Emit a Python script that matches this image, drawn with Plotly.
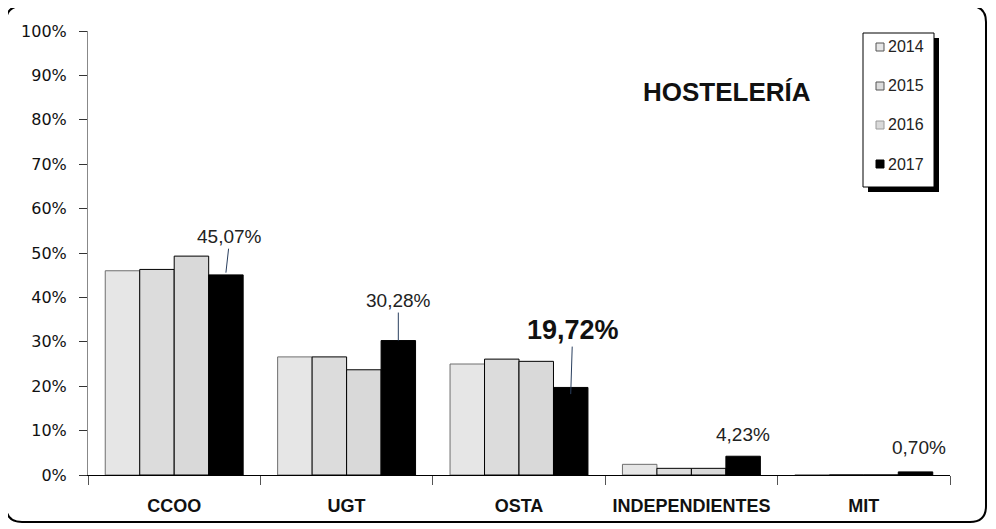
import plotly.graph_objects as go

categories = ["CCOO", "UGT", "OSTA", "INDEPENDIENTES", "MIT"]
years = ["2014", "2015", "2016", "2017"]
v2014 = [46.0, 26.6, 25.0, 2.4, 0.0]
v2015 = [46.3, 26.6, 26.1, 1.5, 0.0]
v2016 = [49.3, 23.7, 25.6, 1.5, 0.0]
v2017 = [45.07, 30.28, 19.72, 4.23, 0.70]
labels2017 = ["45,07%", "30,28%", "19,72%", "4,23%", "0,70%"]
yticks = [0, 10, 20, 30, 40, 50, 60, 70, 80, 90, 100]
yticklabels = [f"{t}%" for t in yticks]

fills = ["#e6e6e6", "#dcdcdc", "#d9d9d9", "#000000"]
edges = ["#6e6e6e", "#000000", "#000000", "#000000"]
series = [v2014, v2015, v2016, v2017]

# page is offset by the 8px body margin
OFF = 8
W, H = 996 - 2 * OFF, 529 - OFF
ml, mr, mt, mb = 80, 38, 23, 54
PL, PT = OFF + ml, OFF + mt          # plot area left/top in page px
pw, ph = W - ml - mr, H - mt - mb
PB = PT + ph

def px2paper(x, y):
    return (x - PL) / pw, (PB - y) / ph

fig = go.Figure()
for i, (yr, vals) in enumerate(zip(years, series)):
    fig.add_trace(go.Bar(
        x=categories, y=vals, name=yr, showlegend=False,
        marker=dict(color=fills[i], line=dict(color=edges[i], width=1)),
    ))

def P(x, y):
    a, b = px2paper(x, y)
    return f"{a:.5f},{b:.5f}"

# rounded outer frame
x0, y0, x1, y1, r = 6, 6, 986, 522, 16
path = (f"M {P(x0+r,y0)} L {P(x1-r,y0)} Q {P(x1,y0)} {P(x1,y0+r)} "
        f"L {P(x1,y1-r)} Q {P(x1,y1)} {P(x1-r,y1)} L {P(x0+r,y1)} "
        f"Q {P(x0,y1)} {P(x0,y1-r)} L {P(x0,y0+r)} Q {P(x0,y0)} {P(x0+r,y0)} Z")
shapes = [dict(type="path", xref="paper", yref="paper", path=path,
               line=dict(color="black", width=2), layer="below")]

def rect_px(xa, ya, xb, yb, **kw):
    a0, b0 = px2paper(xa, ya)
    a1, b1 = px2paper(xb, yb)
    d = dict(type="rect", xref="paper", yref="paper", x0=a0, x1=a1, y0=b1, y1=b0)
    d.update(kw)
    return d

# legend box with shadow
lx0, ly0, lx1, ly1 = 863, 33, 934, 187
shapes.append(rect_px(lx0 + 5, ly0 + 5, lx1 + 5, ly1 + 5, fillcolor="black",
                      line=dict(width=0), layer="above"))
shapes.append(rect_px(lx0, ly0, lx1, ly1, fillcolor="white",
                      line=dict(color="black", width=1), layer="above"))

anns = []
leg_y = [47, 86, 125, 164]
leg_edges = ["#555555", "#555555", "#9a9a9a", "#000000"]
for i, yr in enumerate(years):
    cy = leg_y[i]
    shapes.append(rect_px(876, cy - 4, 884, cy + 4, fillcolor=fills[i],
                          line=dict(color=leg_edges[i], width=1), layer="above"))
    lx, ly = px2paper(886, cy)
    anns.append(dict(xref="paper", yref="paper", x=lx, y=ly, xanchor="left", yanchor="middle",
                     text=yr, showarrow=False,
                     font=dict(family="Liberation Sans, Arial", size=16, color="#222")))

barw = pw / len(categories) * 0.8 / 4
shift = 1.5 * barw
NARROW = "Liberation Sans Narrow, Liberation Sans, Arial"
label_font = dict(family=NARROW, size=19, color="#222")
anns.append(dict(x=categories[0], y=v2017[0] + 0.5, xshift=shift, text=labels2017[0],
                 showarrow=True, arrowhead=0, arrowwidth=1, ax=4, ay=-36, font=label_font))
anns.append(dict(x=categories[1], y=v2017[1], xshift=shift, text=labels2017[1],
                 showarrow=True, arrowhead=0, arrowwidth=1, ax=0, ay=-40, font=label_font))
anns.append(dict(x=categories[2], y=v2017[2] - 1.5, xshift=shift, text=labels2017[2],
                 showarrow=True, arrowhead=0, arrowwidth=1, ax=2, ay=-64,
                 font=dict(family=NARROW, size=27, color="#111", weight="bold")))
anns.append(dict(x=categories[3], y=v2017[3], xshift=shift, text=labels2017[3],
                 showarrow=False, yanchor="bottom", yshift=9, font=label_font))
anns.append(dict(x=categories[4], y=v2017[4], xshift=shift + 3, text=labels2017[4],
                 showarrow=False, yanchor="bottom", yshift=12, font=label_font))
tx, ty = px2paper(727, 92)
anns.append(dict(xref="paper", yref="paper", x=tx, y=ty, xanchor="center", yanchor="middle",
                 text="<b>HOSTELERÍA</b>", showarrow=False,
                 font=dict(family=NARROW, size=26, color="#111")))

fig.update_layout(
    width=W, height=H,
    margin=dict(l=ml, r=mr, t=mt, b=mb, pad=0),
    paper_bgcolor="white", plot_bgcolor="white",
    barmode="group", bargap=0.2, bargroupgap=0,
    shapes=shapes, annotations=anns, showlegend=False,
    xaxis=dict(type="category", showline=True, linecolor="black", linewidth=1,
               ticks="outside", tickson="boundaries", ticklen=9, tickcolor="#555",
               ticklabelstandoff=14,
               tickfont=dict(family=NARROW, size=18, color="#111", weight="bold"),
               showgrid=False),
    yaxis=dict(range=[0, 100], tickvals=yticks, ticktext=yticklabels, showline=True,
               linecolor="#888", linewidth=1, ticks="outside", ticklen=8, tickcolor="#333",
               ticklabelstandoff=9,
               tickfont=dict(family="DejaVu Sans, Verdana", size=16, color="#111"),
               showgrid=False, zeroline=False),
    font=dict(family="Liberation Sans, Arial"),
)
fig.write_html("out.html")
